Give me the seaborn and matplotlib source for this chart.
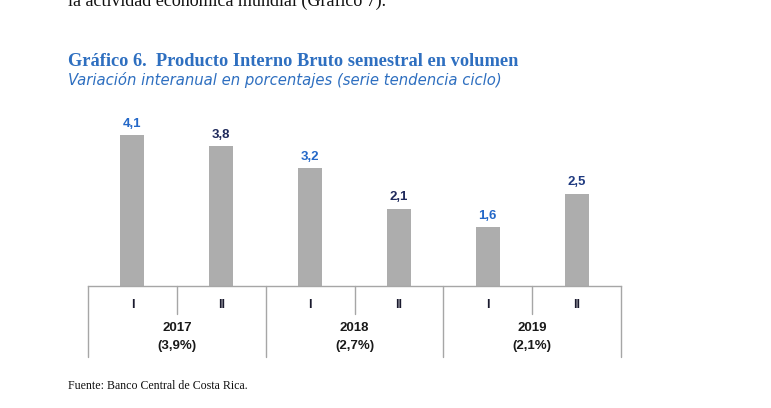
import matplotlib
matplotlib.use("Agg")
import matplotlib.pyplot as plt
import seaborn as sns
import pandas as pd

# ---- data ----
semesters = ["I", "II", "I", "II", "I", "II"]
years = ["2017", "2018", "2019"]
year_growth = ["(3,9%)", "(2,7%)", "(2,1%)"]
values = [4.1, 3.8, 3.2, 2.1, 1.6, 2.5]
value_labels = ["4,1", "3,8", "3,2", "2,1", "1,6", "2,5"]

sns.set_theme(style="white")
plt.rcParams['font.family'] = ['Liberation Sans', 'DejaVu Sans']

W, H = 771, 408
fig = plt.figure(figsize=(W / 100, H / 100), dpi=100)
fig.patch.set_facecolor("white")

# axes in pixel coordinates
x0, x1 = 88, 621
y_base, y_top = 286, 110
ax = fig.add_axes([x0 / W, 1 - y_base / H, (x1 - x0) / W, (y_base - y_top) / H])

df = pd.DataFrame({"pos": [str(i) for i in range(len(values))], "val": values})
sns.barplot(data=df, x="pos", y="val", color="#adadad", width=0.27,
            saturation=1, ax=ax, edgecolor="none")
ax.set_xlim(-0.5, len(values) - 0.5)
ax.set_ylim(0, (y_base - y_top) / 36.8)
ax.set_xlabel("")
ax.set_ylabel("")
ax.set_xticks([])
ax.set_yticks([])
for s in ["top", "left", "right"]:
    ax.spines[s].set_visible(False)
ax.spines["bottom"].set_color("#a6a6a6")
ax.spines["bottom"].set_linewidth(1.0)

# value labels
lab_colors = ["#2468c8", "#1f2a5c", "#2468c8", "#1f2a5c", "#2468c8", "#1f3a80"]
for i, (v, t) in enumerate(zip(values, value_labels)):
    ax.annotate(t, (i, v), xytext=(0, 4), textcoords="offset points",
                ha="center", va="bottom", fontsize=9.5, fontweight="bold",
                color=lab_colors[i])

# table lines below axis
tr = ax.get_xaxis_transform()
px = 1.0 / (y_base - y_top)
n = len(values)
for k in range(n + 1):
    xpos = k - 0.5
    if k % 2 == 0:
        ybot = -(357 - y_base) * px
    else:
        ybot = -(314 - y_base) * px
    ax.plot([xpos, xpos], [0, ybot], transform=tr, color="#a6a6a6",
            lw=1.0, clip_on=False)

for i, s in enumerate(semesters):
    ax.text(i, -(305 - y_base) * px, s, transform=tr, ha="center", va="center",
            fontsize=9, fontweight="bold", color="#1a1a2e")
for j, (y, g) in enumerate(zip(years, year_growth)):
    xc = 2 * j + 0.5
    ax.text(xc, -(328 - y_base) * px, y, transform=tr, ha="center", va="center",
            fontsize=9.5, fontweight="bold", color="#1a1a1a")
    ax.text(xc, -(346 - y_base) * px, g, transform=tr, ha="center", va="center",
            fontsize=9.5, fontweight="bold", color="#1a1a1a")

# titles and texts
fig.text(68 / W, 1 - 1 / H, "la actividad económica mundial (Gráfico 7).",
         ha="left", va="center", fontsize=13, color="#111111",
         family=["Liberation Serif"])
fig.text(68 / W, 1 - 61 / H, "Gráfico 6.  Producto Interno Bruto semestral en volumen",
         ha="left", va="center", fontsize=13.2, fontweight="bold", color="#2e6fc0",
         family=["Liberation Serif"])
fig.text(68 / W, 1 - 80 / H, "Variación interanual en porcentajes (serie tendencia ciclo)",
         ha="left", va="center", fontsize=10.7, style="italic", color="#2e6fc0",
         family=["DejaVu Sans"])
fig.text(68 / W, 1 - 386 / H, "Fuente: Banco Central de Costa Rica.",
         ha="left", va="center", fontsize=8.6, color="#111111",
         family=["Liberation Serif"])

fig.savefig("out.png", dpi=100)
